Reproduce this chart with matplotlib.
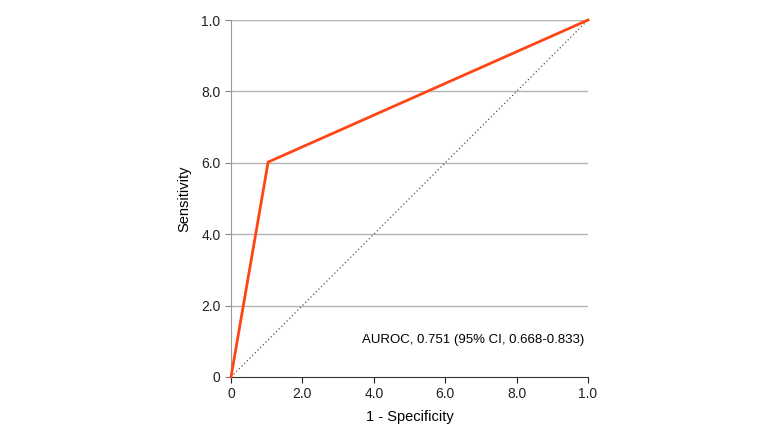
import matplotlib
matplotlib.use('Agg')
import matplotlib.pyplot as plt

plt.rcParams['font.family'] = ['Liberation Sans', 'DejaVu Sans']

fpr = [0, 0.104, 1.0]
tpr = [0, 0.602, 1.0]
ticks = [0, 0.2, 0.4, 0.6, 0.8, 1.0]
tick_labels = ['0', '2.0', '4.0', '6.0', '8.0', '1.0']

fig = plt.figure(figsize=(7.8, 4.32), dpi=100)
ax = fig.add_axes([231/780, 55/432, 357/780, 357/432])

for t in ticks[1:]:
    ax.axhline(t, color='#b3b3b3', lw=1, zorder=0)
ax.plot([0, 1], [0, 1], color='#555555', lw=0.9, ls=(0, (1, 2)), zorder=1)
ax.plot(fpr, tpr, color='#ff4612', lw=2, zorder=3, clip_on=False)

ax.set_xlim(0, 1)
ax.set_ylim(0, 1)
ax.set_xticks(ticks)
ax.set_xticklabels(tick_labels)
ax.set_yticks(ticks)
ax.set_yticklabels(tick_labels)
ax.tick_params(labelsize=10, colors='#222222', length=4)
ax.tick_params(axis='y', colors='#888888', labelcolor='#222222')
for s in ['top', 'right']:
    ax.spines[s].set_visible(False)
ax.spines['left'].set_color('#999999')
ax.spines['bottom'].set_color('#333333')

ax.set_xlabel('1 - Specificity', fontsize=10.5, labelpad=6)
ax.set_ylabel('Sensitivity', fontsize=10.5, labelpad=7)
ax.text(0.99, 0.104, 'AUROC, 0.751 (95% CI, 0.668-0.833)', ha='right', va='center', fontsize=9.5)

fig.savefig('out.png', dpi=100)
